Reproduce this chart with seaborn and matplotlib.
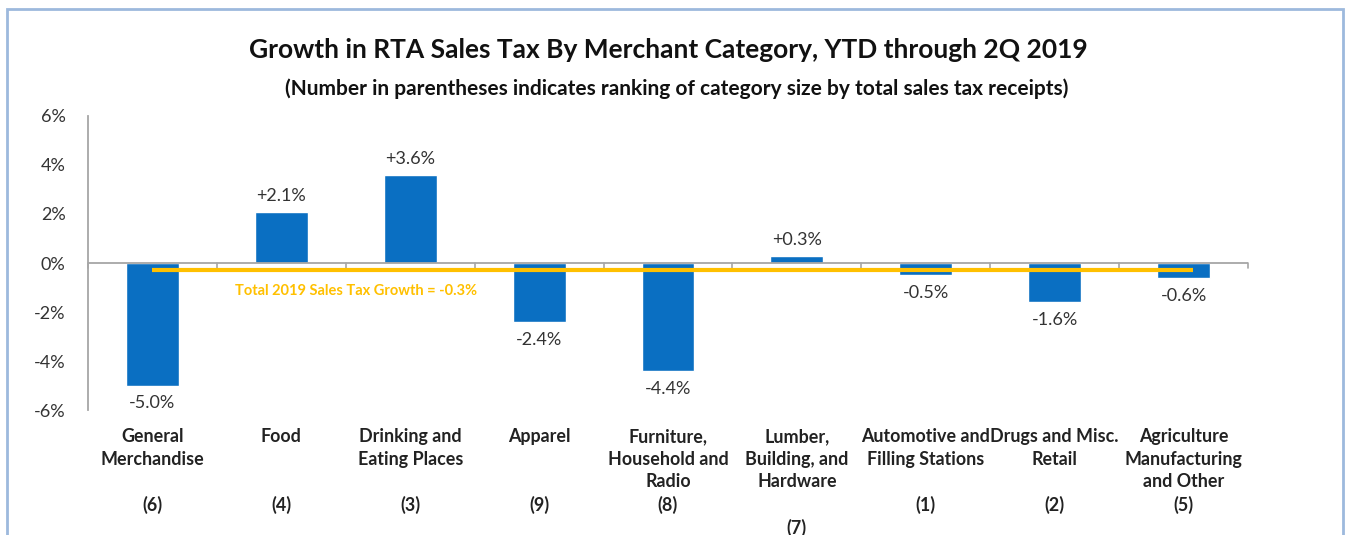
import matplotlib
matplotlib.use("Agg")
import matplotlib.pyplot as plt
import seaborn as sns
import pandas as pd
from matplotlib.patches import Rectangle

categories = [
    "General\nMerchandise\n\n(6)",
    "Food\n\n\n(4)",
    "Drinking and\nEating Places\n\n(3)",
    "Apparel\n\n\n(9)",
    "Furniture,\nHousehold and\nRadio\n(8)",
    "Lumber,\nBuilding, and\nHardware\n\n(7)",
    "Automotive and\nFilling Stations\n\n(1)",
    "Drugs and Misc.\nRetail\n\n(2)",
    "Agriculture\nManufacturing\nand Other\n(5)",
]
growth = [-5.0, 2.1, 3.6, -2.4, -4.4, 0.3, -0.5, -1.6, -0.6]
total_growth = -0.3
y_ticks = [-6, -4, -2, 0, 2, 4, 6]

sns.set_theme(style="white")
plt.rcParams['font.family'] = ['Lato', 'DejaVu Sans']

df = pd.DataFrame({"cat": categories, "val": growth})

fig = plt.figure(figsize=(13.47, 5.35), dpi=100)
ax = fig.add_axes([0.0653, 0.2336, 0.8612, 0.5496])

sns.barplot(data=df, x="cat", y="val", color="#0A6FC2", saturation=1,
            width=0.41, ax=ax)

ax.set_ylim(-6, 6)
ax.set_xlim(-0.5, len(categories) - 0.5)
ax.set_yticks(y_ticks)
ax.set_yticklabels([f"{t}%" for t in y_ticks], fontsize=13, color="#333333")
ax.tick_params(axis="y", length=0, pad=16)
ax.tick_params(axis="x", length=0, pad=13)
ax.set_xlabel("")
ax.set_ylabel("")
for lab in ax.get_xticklabels():
    lab.set_fontweight("bold")
    lab.set_fontsize(12.9)
    lab.set_color("#222222")
    lab.set_verticalalignment("top")
    lab.set_linespacing(1.4)

for s in ["top", "right", "bottom"]:
    ax.spines[s].set_visible(False)
ax.spines["left"].set_color("#A6A6A6")
ax.spines["left"].set_linewidth(1.3)

# zero line with boundary ticks
ax.axhline(0, color="#A6A6A6", lw=1.3, zorder=1)
for k in range(len(categories) + 1):
    ax.plot([k - 0.5, k - 0.5], [0, -0.2], color="#A6A6A6", lw=1.2, zorder=1,
            clip_on=False)

# total growth line
ax.plot([0, len(categories) - 1 + 0.07], [total_growth, total_growth],
        color="#FFC000", lw=3, zorder=3, solid_capstyle="butt")
ax.text(0.64, total_growth - 0.55, f"Total 2019 Sales Tax Growth = {total_growth}%",
        color="#FFC000", fontsize=10.5, fontweight="bold", ha="left", va="top")

# value labels
for i, v in enumerate(growth):
    txt = f"+{v:.1f}%" if v > 0 else f"{v:.1f}%"
    if v >= 0:
        ax.text(i, v + 0.32, txt, ha="center", va="bottom", fontsize=13,
                color="#333333")
    else:
        ax.text(i, v - 0.4, txt, ha="center", va="top", fontsize=13,
                color="#333333")

fig.text(0.496, 0.906, "Growth in RTA Sales Tax By Merchant Category, YTD through 2Q 2019",
         ha="center", va="center", fontsize=19, fontweight="bold", color="#111111")
fig.text(0.502, 0.835, "(Number in parentheses indicates ranking of category size by total sales tax receipts)",
         ha="center", va="center", fontsize=15, fontweight="bold", color="#111111")

# outer border
fig.patches.append(Rectangle((7 / 1347, -0.05), (1343 - 7) / 1347, 1.05 - 9 / 535,
                             transform=fig.transFigure, fill=False,
                             edgecolor="#9DB9DD", lw=2))

fig.savefig("out.png", dpi=100, facecolor="white")
